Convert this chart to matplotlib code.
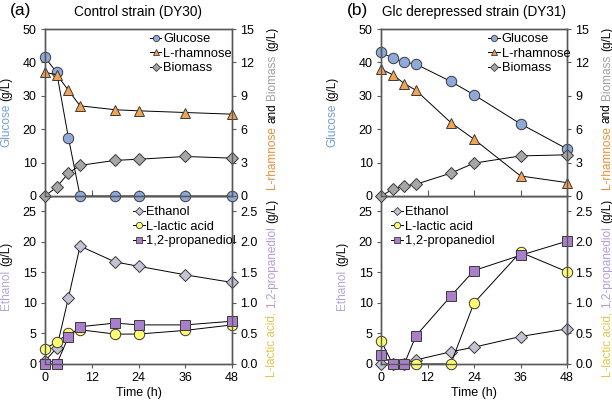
import matplotlib
matplotlib.use("Agg")
import matplotlib.pyplot as plt
import matplotlib.ticker as mticker
from matplotlib.lines import Line2D

plt.rcParams['font.family'] = ['Liberation Sans', 'DejaVu Sans']
plt.rcParams['font.size'] = 9

# sampling times (h)
time_h = [0, 3, 6, 9, 18, 24, 36, 48]

# (a) control strain DY30
glc_a = [41.5, 37.0, 17.5, 0, 0, 0, 0, 0]
rha_a = [11.1, 10.9, 9.5, 8.1, 7.75, 7.65, 7.5, 7.35]
bio_a = [0, 0.8, 2.05, 2.75, 3.2, 3.3, 3.55, 3.4]
eth_a = [0.5, 2.6, 10.8, 19.3, 16.7, 16.0, 14.6, 13.35]
lac_a = [0.25, 0.36, 0.5, 0.56, 0.49, 0.49, 0.55, 0.64]
pdo_a = [0, 0, 0.44, 0.61, 0.67, 0.64, 0.64, 0.70]

# (b) Glc derepressed strain DY31
glc_b = [43.0, 41.3, 40.1, 39.5, 34.3, 30.3, 21.6, 14.1]
rha_b = [11.4, 10.9, 10.1, 9.5, 6.6, 5.1, 1.8, 1.2]
bio_b = [0, 0.6, 0.9, 1.05, 2.05, 2.95, 3.6, 3.7]
eth_b = [0, 0, 0, 0.66, 2.0, 2.75, 4.5, 5.75]
lac_b = [0.38, 0, 0, 0, 0, 1.0, 1.83, 1.51]
pdo_b = [0.15, 0, 0, 0.46, 1.11, 1.53, 1.78, 2.01]

titles = ["Control strain (DY30)", "Glc derepressed strain (DY31)"]
tags = ["(a)", "(b)"]

c_glc, c_rha, c_bio = '#8eaadb', '#f4a353', '#a6a6a6'
c_eth, c_lac, c_pdo = '#c3c3d3', '#ffff70', '#a97fcc'
t_glc, t_rha, t_bio = '#6f9fd8', '#e8903a', '#a0a0a0'
t_eth, t_lac, t_pdo = '#b4a7d6', '#e3c64a', '#b39ddb'
spine_c = '#595959'

W, H = 612, 401
fig = plt.figure(figsize=(W / 100, H / 100), dpi=100)

def px_ax(left, right, top, bottom):
    return fig.add_axes([left / W, 1 - bottom / H, (right - left) / W, (bottom - top) / H])

def style(ax):
    for s in ax.spines.values():
        s.set_color(spine_c)
        s.set_linewidth(1.0)
    ax.tick_params(axis='y', which='both', direction='out', length=3, pad=3,
                   color=spine_c, labelsize=9)
    ax.set_xlim(0, 48)

def series(ax, y, marker, fc, ms=7.5):
    ax.plot(time_h, y, color='black', lw=0.7, marker=marker, ms=ms, mfc=fc,
            mec='#3a3a3a', mew=0.7, clip_on=False)

def color_label(x, yc, parts, fs=8.5):
    # stacked rotated text pieces, x / yc in image pixels from top-left
    r = fig.canvas.get_renderer()
    objs = []
    sp = fs * 100 / 72 * 0.28
    for s, c in parts:
        t = fig.text(0, 0, s, color=c, rotation=90, fontsize=fs, ha='center',
                     va='bottom', transform=None)
        objs.append(t)
    hs = [t.get_window_extent(r).height for t in objs]
    total = sum(hs) + sp * (len(objs) - 1)
    y = (H - yc) - total / 2
    for t, h in zip(objs, hs):
        t.set_position((x, y))
        y += h + sp

lefts = [(45, 232), (381, 567)]
top_data = [(glc_a, rha_a, bio_a), (glc_b, rha_b, bio_b)]
bot_data = [(eth_a, lac_a, pdo_a), (eth_b, lac_b, pdo_b)]
leg_top_x = [0.56, 0.575]
leg_bot_x = [0.47, 0.054]
lab_left_x = [(6, 6), (332, 342)]
lab_right_x = [272, 607]

for i in range(2):
    l, r = lefts[i]
    ax_t = px_ax(l, r, 29, 196)
    ax_b = px_ax(l, r, 196, 364)
    ax_b.set_zorder(1)
    ax_t.set_zorder(3)
    ax_t2 = ax_t.twinx()
    ax_t2.set_zorder(4)
    ax_b2 = ax_b.twinx()
    ax_b2.set_zorder(2)
    for a in (ax_t, ax_t2, ax_b, ax_b2):
        style(a)

    glc, rha, bio = top_data[i]
    eth, lac, pdo = bot_data[i]

    series(ax_t, glc, 'o', c_glc)
    series(ax_t2, rha, '^', c_rha)
    series(ax_t2, bio, 'D', c_bio, ms=6.3)
    series(ax_b, eth, 'D', c_eth, ms=6.3)
    series(ax_b2, lac, 'o', c_lac)
    series(ax_b2, pdo, 's', c_pdo)

    ax_t.set_ylim(0, 50)
    ax_t.set_yticks(range(0, 51, 10))
    ax_t2.set_ylim(0, 15)
    ax_t2.set_yticks(range(0, 16, 3))
    ax_b.set_ylim(0, 27.5)
    ax_b.set_yticks(range(0, 26, 5))
    ax_b2.set_ylim(0, 2.75)
    ax_b2.set_yticks([0, 0.5, 1.0, 1.5, 2.0, 2.5])
    ax_b2.yaxis.set_major_formatter(mticker.FormatStrFormatter('%.1f'))

    for a in (ax_t, ax_t2):
        a.set_xticks([0, 12, 24, 36, 48])
        a.tick_params(axis='x', direction='in', length=4, color=spine_c, labelbottom=False)
    for a in (ax_b, ax_b2):
        a.set_xticks([0, 12, 24, 36, 48])
        a.tick_params(axis='x', direction='out', length=3, pad=3, color=spine_c, labelsize=9)
    ax_b.set_xlabel("Time (h)", fontsize=9, labelpad=2)

    def h(marker, fc, ms):
        return Line2D([], [], color='black', lw=0.7, marker=marker, ms=ms, mfc=fc,
                      mec='#3a3a3a', mew=0.6)

    ax_t2.legend([h('o', c_glc, 4.5), h('^', c_rha, 4.5), h('D', c_bio, 3.8)],
                 ["Glucose", "L-rhamnose", "Biomass"], loc='upper left',
                 bbox_to_anchor=(leg_top_x[i], 0.975), frameon=False, borderpad=0,
                 borderaxespad=0, handlelength=0.9, handletextpad=0.15,
                 labelspacing=0.2, fontsize=9.3)
    ax_b2.legend([h('D', c_eth, 3.8), h('o', c_lac, 4.5), h('s', c_pdo, 4.5)],
                 ["Ethanol", "L-lactic acid", "1,2-propanediol"], loc='upper left',
                 bbox_to_anchor=(leg_bot_x[i], 0.94), frameon=False, borderpad=0,
                 borderaxespad=0, handlelength=0.9, handletextpad=0.15,
                 labelspacing=0.2, fontsize=9.3)

    cx = (l + r) / 2
    fig.text(cx / W, 1 - 12 / H, titles[i], ha='center', va='center', fontsize=9.8)
    fig.text((l - 24) / W, 1 - 10 / H, tags[i], ha='center', va='center', fontsize=12.5)

    color_label(lab_left_x[i][0], 112, [("Glucose", t_glc), ("(g/L)", 'black')])
    color_label(lab_left_x[i][1], 276, [("Ethanol", t_eth), ("(g/L)", 'black')])
    color_label(lab_right_x[i], 108, [("L-rhamnose", t_rha), ("and", 'black'),
                                      ("Biomass", t_bio), ("(g/L)", 'black')])
    color_label(lab_right_x[i], 288, [("L-lactic acid,", t_lac), ("1,2-propanediol", t_pdo),
                                      ("(g/L)", 'black')])

fig.savefig("out.png", dpi=100)
